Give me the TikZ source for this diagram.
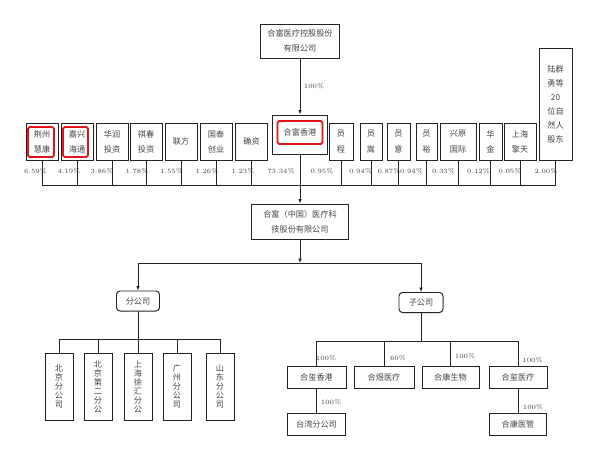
\documentclass[tikz,border=0pt]{standalone}
\usepackage{fontspec}
\newfontfamily\cjk{Noto Sans CJK SC}
\usepackage{tikz}
\definecolor{chartInk}{HTML}{444444}
\definecolor{chartLine}{HTML}{222222}
\definecolor{chartRed}{HTML}{E3141C}
\usetikzlibrary{arrows.meta,calc}

\begin{document}
\begin{tikzpicture}[
  x=0.025cm, y=-0.025cm,
  >={Latex[length=3.2pt,width=2.6pt]},
  entitybox/.style={
    draw=chartLine,
    line width=0.7pt,
    fill=white,
    inner sep=0.5pt,
    align=center,
    text=chartInk,
    font={\cjk\fontsize{5.8}{10.8}\selectfont}
  },
  holderbox/.style={entitybox, minimum width=0.8cm, minimum height=0.925cm},
  unitbox/.style={entitybox, rounded corners=2.5pt, minimum height=0.5cm},
  branchbox/.style={entitybox, minimum width=0.7cm, minimum height=1.675cm,
    font={\cjk\fontsize{5.8}{6.4}\selectfont}},
  subbox/.style={entitybox, minimum height=0.55cm},
  flagbox/.style={draw=chartRed, line width=1.3pt, rounded corners=1.2pt},
  relation/.style={->, line width=0.6pt, chartLine},
  link/.style={line width=0.6pt, chartLine},
  pct/.style={font=\fontsize{4.6}{5}\selectfont, text=chartInk, inner sep=0.5pt}
]
\useasboundingbox (0,0) rectangle (600,449);

% Holding company
\node[entitybox, minimum width=1.95cm, minimum height=0.85cm] (holdco) at (300,41)
{合富医疗控股股份\\有限公司};

% Shareholders
\node[holderbox] (jz) at (42,141.5) {荆州\\慧康};
\node[holderbox] (jx) at (77,141.5) {嘉兴\\海通};
\node[holderbox] (hr) at (112,141.5) {华润\\投资};
\node[holderbox] (qc) at (146,141.5) {祺春\\投资};
\node[holderbox] (lf) at (181,141.5) {联方};
\node[holderbox] (gt) at (216,141.5) {国泰\\创业};
\node[holderbox, minimum width=0.78cm] (qz) at (251.5,141.5) {确资};
\node[entitybox, minimum width=1.375cm, minimum height=0.975cm] (hfhk) at (300,134.5) {};
\node[entitybox, draw=chartRed, line width=1.3pt, rounded corners=1.2pt,
  minimum width=1.125cm, minimum height=0.575cm] (hfhkin) at (300,132.5) {合富香港};
\node[holderbox, minimum width=0.6cm] (yc) at (341,141.5) {员\\程};
\node[holderbox, minimum width=0.55cm] (ys) at (371,141.5) {员\\嵩};
\node[holderbox, minimum width=0.575cm] (yy) at (398.5,141.5) {员\\意};
\node[holderbox, minimum width=0.525cm] (yyu) at (426.5,141.5) {员\\裕};
\node[holderbox, minimum width=0.9cm] (xy) at (458,141.5) {兴原\\国际};
\node[holderbox, minimum width=0.575cm] (hj) at (490.5,141.5) {华\\金};
\node[holderbox] (sq) at (520,141.5) {上海\\擎天};
\node[entitybox, minimum width=0.825cm, minimum height=2.775cm,
  font={\cjk\fontsize{5.8}{10}\selectfont}] (lq) at (555.5,104.5)
{陆群\\勇等\\20\\位自\\然人\\股东};

% Red marks
\node[flagbox, minimum width=0.65cm, minimum height=0.75cm] (jzflag) at (41,142) {};
\node[flagbox, minimum width=0.625cm, minimum height=0.75cm] (jxflag) at (75.5,142) {};

% Share bus
\coordinate (bus) at (300,185);
\foreach \n in {jz,jx,hr,qc,lf,gt,qz,hfhk,yc,ys,yy,yyu,xy,hj,sq,lq}
  \draw[link] (\n.south) -- (\n.south |- bus);
\draw[link] (jz.south |- bus) -- (lq.south |- bus);

\foreach \x/\v [count=\i] in {35.5/6.59,69/4.19,102/3.86,137/1.78,171.5/1.55,
    207/1.26,243/1.23,281/73.34,322/0.95,360.5/0.94,389/0.87,411.5/0.94,
    443.5/0.33,478.5/0.12,510/0.05,546/2.00}
  \node[pct] (share\i) at (\x,171) {\v\%};

% Operating company
\node[entitybox, minimum width=2.4cm, minimum height=0.875cm] (hfcn) at (300,221.5)
{合富（中国）医疗科\\技股份有限公司};

\node[unitbox, minimum width=1.075cm] (fgs) at (138,301) {分公司};
\node[unitbox, minimum width=1.1cm] (zgs) at (421,302.5) {子公司};

% Branches
\node[branchbox] (bj) at (59,386.5) {北\\京\\分\\公\\司};
\node[branchbox] (bjtwo) at (98,386.5) {北\\京\\第\\二\\分\\公};
\node[branchbox] (shxh) at (138,386.5) {上\\海\\徐\\汇\\分\\公};
\node[branchbox] (gz) at (177,386.5) {广\\州\\分\\公\\司};
\node[branchbox] (sd) at (220,386.5) {山\\东\\分\\公\\司};

% Subsidiaries
\node[subbox, minimum width=1.475cm] (hxhk) at (316.5,377) {合玺香港};
\node[subbox, minimum width=1.5cm] (hyyl) at (384,377) {合煜医疗};
\node[subbox, minimum width=1.425cm] (hksw) at (450.5,377) {合康生物};
\node[subbox, minimum width=1.45cm] (hxyl) at (518,377) {合玺医疗};
\node[subbox, minimum width=1.45cm] (tw) at (316.5,424) {台湾分公司};
\node[subbox, minimum width=1.425cm] (hkyg) at (518,424) {合康医管};

% Relations
\draw[relation] (holdco.south) -- node[pct, right, xshift=2pt] (own) {100\%} (hfhk.north);
\draw[relation] (bus) -- (hfcn.north);
\coordinate (split) at (300,263);
\draw[relation] (hfcn.south) -- (split);
\draw[relation] (split) -| (fgs.north);
\draw[relation] (split) -| (zgs.north);

\coordinate (fbus) at (138,339);
\draw[link] (fgs.south) -- (fbus);
\draw[link] (bj.north |- fbus) -- (sd.north |- fbus);
\foreach \n in {bj,bjtwo,shxh,gz,sd}
  \draw[link] (\n.north) -- (\n.north |- fbus);

\coordinate (zbus) at (421,341);
\draw[link] (zgs.south) -- (zbus);
\draw[link] (hxhk.north |- zbus) -- (hxyl.north |- zbus);
\foreach \n in {hxhk,hyyl,hksw,hxyl}
  \draw[link] (\n.north) -- (\n.north |- zbus);
\draw[link] (hxhk.south) -- (tw.north);
\draw[link] (hxyl.south) -- (hkyg.north);

\node[pct] (own1) at (326,358) {100\%};
\node[pct] (own2) at (398,358) {60\%};
\node[pct] (own3) at (465,356) {100\%};
\node[pct] (own4) at (532.5,360) {100\%};
\node[pct] (own5) at (331,402) {100\%};
\node[pct] (own6) at (533,407) {100\%};

\end{tikzpicture}
\end{document}
